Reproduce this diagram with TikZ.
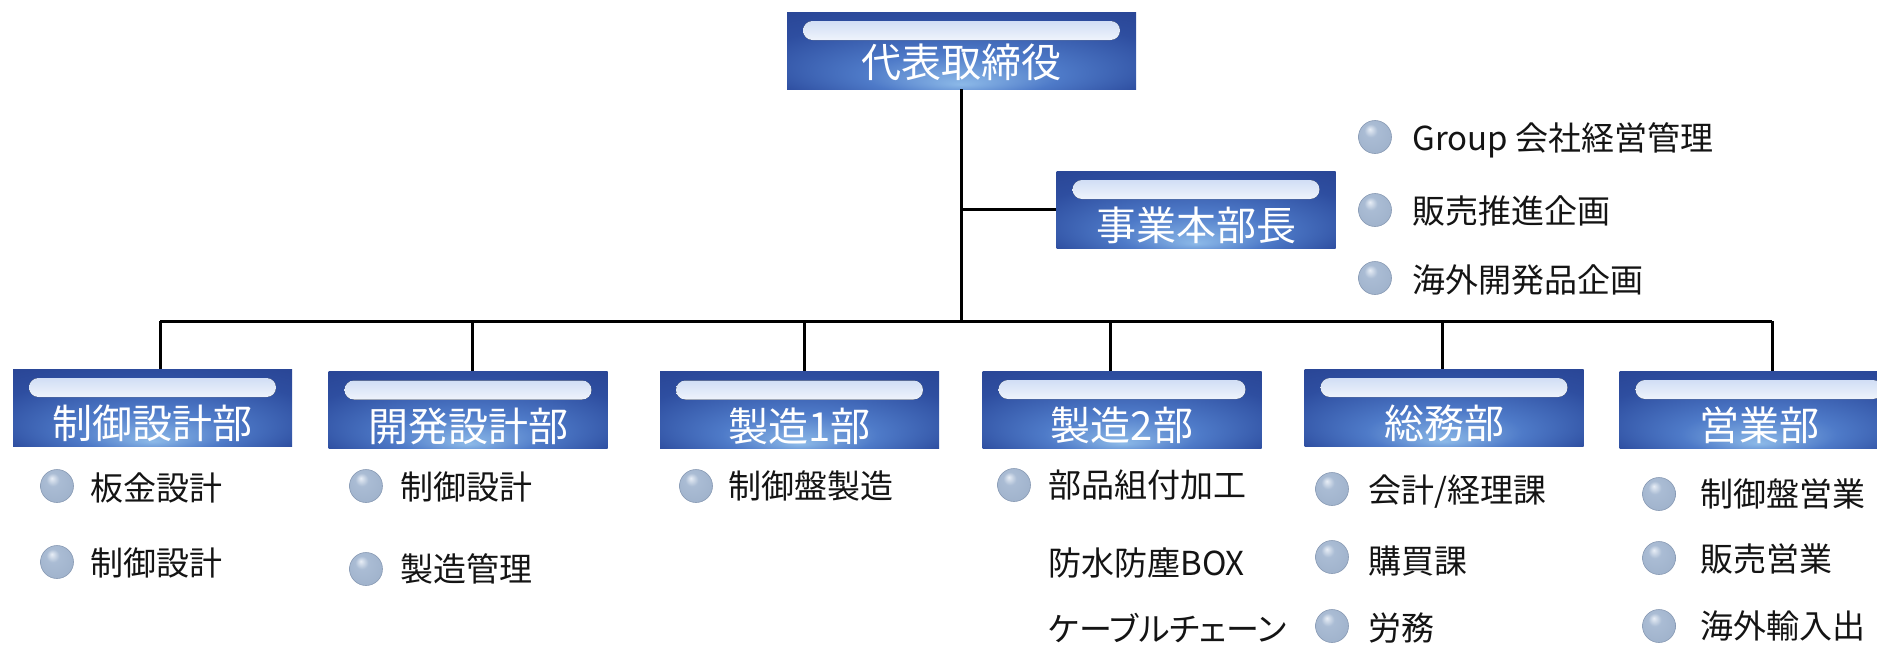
\documentclass[tikz,border=0pt]{standalone}
\usepackage{fontspec}
\setmainfont{Noto Sans CJK JP}
\newfontfamily\paltfont[RawFeature=+palt]{Noto Sans CJK JP}
\usetikzlibrary{calc}
\definecolor{boxlight}{RGB}{140,185,232}
\definecolor{boxmid}{RGB}{78,122,200}
\definecolor{boxdark}{RGB}{46,78,160}
\definecolor{boxedge}{RGB}{36,60,138}
\definecolor{barblue}{RGB}{195,212,242}
\definecolor{balllight}{RGB}{232,238,246}
\definecolor{ballmid}{RGB}{170,188,212}
\definecolor{balldark}{RGB}{105,128,160}
\definecolor{itemtext}{RGB}{20,20,20}
\pgfdeclareradialshading{boxglow}{\pgfpoint{0bp}{-22bp}}{color(0bp)=(boxlight); color(14bp)=(boxmid); color(30bp)=(boxdark); color(50bp)=(boxedge)}
\pgfdeclareradialshading{bulletball}{\pgfpoint{-8bp}{12bp}}{color(0bp)=(balllight); color(10bp)=(ballmid); color(30bp)=(ballmid!85!balldark); color(50bp)=(balldark)}
\tikzset{
  dept/.style={rectangle, minimum width=139.5pt, minimum height=38.5pt, inner sep=0pt,
    shading=boxglow, text=white, font=\fontsize{20pt}{20pt}\selectfont,
    text height=31pt, text depth=0pt,
    path picture={\fill[rounded corners=4.7pt, top color=barblue, bottom color=barblue!70!white, middle color=white]
      ($(path picture bounding box.north west)+(8pt,-4.5pt)$) rectangle
      ($(path picture bounding box.north east)+(-8pt,-14pt)$);}},
  conn/.style={draw=black, line width=1.5pt},
  bullet/.style={circle, inner sep=0pt, minimum size=16.5pt, shading=bulletball, draw=balldark!80!white, line width=0.3pt},
  item/.style={anchor=west, inner sep=0pt, text=itemtext, font=\fontsize{16.5pt}{16.5pt}\selectfont}
}
\begin{document}
\begin{tikzpicture}[x=0.5pt,y=-0.5pt]
\useasboundingbox (0,0) rectangle (1877,648);
\clip (0,0) rectangle (1877,648);
% boxes
\node[dept, minimum width=174.5pt, text height=27pt] (top) at (961.5,50.5) {代表取締役};
\node[dept] (sbu) at (1196,209.5) {事業本部長};
\node[dept] (d1) at (152.5,407.5) {制御設計部};
\node[dept] (d2) at (468,410) {開発設計部};
\node[dept] (d3) at (799.5,410) {製造1部};
\node[dept] (d4) at (1122,409.5) {製造2部};
\node[dept] (d5) at (1444,407.5) {総務部};
\node[dept] (d6) at (1759,409.5) {営業部};
% connectors
\coordinate (busL) at (160,321);
\coordinate (busR) at (1772,321);
\coordinate (c2) at (472,321);
\coordinate (c3) at (804,321);
\coordinate (c4) at (1110,321);
\coordinate (c5) at (1442,321);
\draw[conn] (top.south) -- (top.south |- busL);
\draw[conn] (top.south |- sbu.west) -- (sbu.west);
\draw[conn] (busL) -- (busR);
\draw[conn] (busL) -- (busL |- d1.north);
\draw[conn] (c2) -- (c2 |- d2.north);
\draw[conn] (c3) -- (c3 |- d3.north);
\draw[conn] (c4) -- (c4 |- d4.north);
\draw[conn] (c5) -- (c5 |- d5.north);
\draw[conn] (busR) -- (busR |- d6.north);
% top-right list
\node[bullet] (s1b) at (1375,137) {};
\node[item] (s1) at (1412,140) {Group 会社経営管理};
\node[bullet] (s2b) at (1375,210) {};
\node[item] (s2) at (1412,211) {販売推進企画};
\node[bullet] (s3b) at (1375,278) {};
\node[item] (s3) at (1412,280) {海外開発品企画};
% dept 1
\node[bullet] (a1b) at (57,486) {};
\node[item] (a1) at (90,488) {板金設計};
\node[bullet] (a2b) at (57,562) {};
\node[item] (a2) at (90,563) {制御設計};
% dept 2
\node[bullet] (b1b) at (366,486) {};
\node[item] (b1) at (400,487) {制御設計};
\node[bullet] (b2b) at (366,569) {};
\node[item] (b2) at (400,569) {製造管理};
% dept 3
\node[bullet] (e1b) at (696,486) {};
\node[item] (e1) at (728,486) {制御盤製造};
% dept 4
\node[bullet] (f1b) at (1014,485) {};
\node[item] (f1) at (1048,485) {部品組付加工};
\node[item] (f2) at (1048,563) {防水防塵BOX};
\node[item] (f3) at (1048,628) {\paltfont ケーブルチェーン};
% dept 5
\node[bullet] (g1b) at (1332,489) {};
\node[item] (g1) at (1368,492) {会計/経理課};
\node[bullet] (g2b) at (1332,557) {};
\node[item] (g2) at (1368,561) {購買課};
\node[bullet] (g3b) at (1332,626) {};
\node[item] (g3) at (1368,628) {労務};
% dept 6
\node[bullet] (h1b) at (1659,494) {};
\node[item] (h1) at (1700,494) {制御盤営業};
\node[bullet] (h2b) at (1659,558) {};
\node[item] (h2) at (1700,559) {販売営業};
\node[bullet] (h3b) at (1659,626) {};
\node[item] (h3) at (1700,626) {海外輸入出};
\end{tikzpicture}
\end{document}
